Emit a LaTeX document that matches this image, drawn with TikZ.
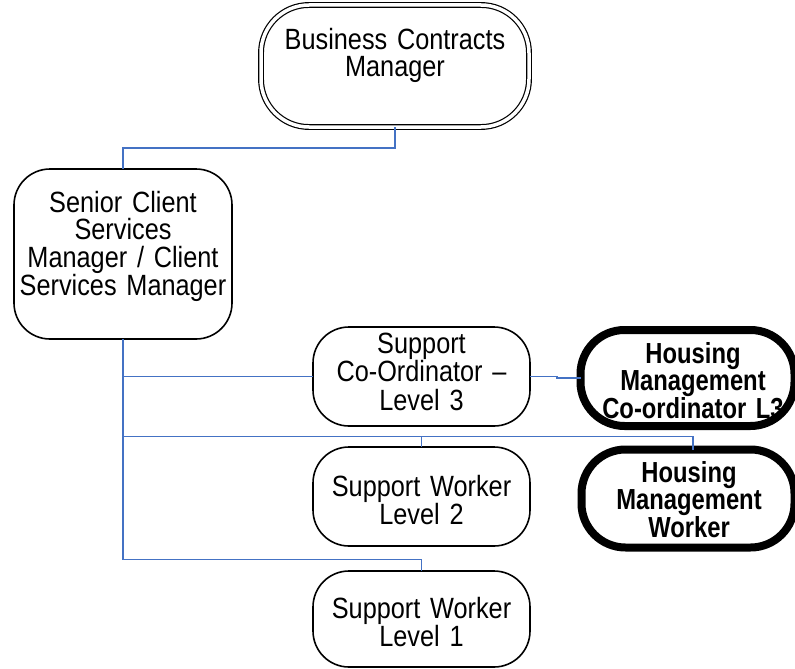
\documentclass[tikz,border=0pt]{standalone}
\usepackage{fontspec}
\usetikzlibrary{calc}
\newfontfamily\lblfont{Liberation Sans}[FakeStretch=0.863]
\newfontfamily\lblbold{Liberation Sans}[FakeStretch=0.82]
\definecolor{linkblue}{HTML}{4472C4}
% regular and bold label fonts with tighter word spaces
\newcommand\regfont[1]{\lblfont\fontsize{29.3}{#1}\selectfont\spaceskip=7pt plus 1pt\relax}
\newcommand\heavyfont[1]{\lblbold\bfseries\fontsize{29}{#1}\selectfont\spaceskip=7pt plus 1pt\relax}
\begin{document}
\begin{tikzpicture}[x=1pt,y=-1pt,
  box/.style={draw=black, line width=1.6pt, rounded corners=36pt, inner sep=0pt, outer sep=0pt},
  heavybox/.style={draw=black, line width=8pt, rounded corners=44pt, inner sep=0pt, outer sep=0pt},
  dblbox/.style={draw=black, double=white, double distance=3.5pt, line width=1.2pt, rounded corners=48pt, inner sep=0pt, outer sep=0pt},
  txt/.style={anchor=base, inner sep=0pt, align=center, font=\regfont{28}},
  boldtxt/.style={anchor=base, inner sep=0pt, align=center, font=\heavyfont{25.8}},
  link/.style={draw=linkblue, line width=1.9pt}]
\useasboundingbox (0,0) rectangle (795,669);

% boxes
\node[dblbox, minimum width=268pt, minimum height=122pt] (bcm) at (395,66) {};
\node[box, minimum width=218pt, minimum height=170pt] (scsm) at (123,254) {};
\node[box, minimum width=217pt, minimum height=99pt] (sc3) at (421.5,376.5) {};
\node[box, minimum width=217pt, minimum height=99pt] (sw2) at (421.5,496.5) {};
\node[box, minimum width=217pt, minimum height=96pt] (sw1) at (421.5,619) {};
\node[heavybox, minimum width=214pt, minimum height=96pt] (hmc) at (687.5,378) {};
\node[heavybox, minimum width=213pt, minimum height=98pt] (hmw) at (688,498.5) {};

% labels
\node[txt, text width=260pt] (bcmtext) at (395,49) {Business Contracts\\Manager};
\node[txt, text width=215pt, font=\regfont{27.2}] (scsmtext) at (123,212.7) {Senior Client\\Services\\Manager / Client\\Services Manager};
\node[txt, text width=210pt, font=\regfont{28.5}] (sc3text) at (421.5,353) {Support\\Co-Ordinator –\\Level 3};
\node[txt, text width=210pt] (sw2text) at (421.5,496) {Support Worker\\Level 2};
\node[txt, text width=210pt, font=\regfont{27}] (sw1text) at (421.5,618) {Support Worker\\Level 1};
\node[boldtxt, text width=210pt] (hmctext) at (693,363) {Housing\\Management\\Co-ordinator L3};
\node[boldtxt, text width=210pt, font=\heavyfont{26}] (hmwtext) at (689,482) {Housing\\Management\\Worker};

% reporting lines
\coordinate (topbend) at (123,148);
\coordinate (sw2bend) at (421.5,436.5);
\coordinate (hmwbend) at (693,436.5);
\coordinate (sw1bend) at (421.5,559.5);
\draw[link] (bcm.south) |- (topbend) -- (scsm.north);
\draw[link] (scsm.south) |- (sc3.west);
\draw[link] (sc3.east) -- ++(27,0) |- (hmc.west);
\draw[link] (scsm.south) |- (sw2bend) -- (sw2.north);
\draw[link] (scsm.south) |- (hmwbend) -- (hmwbend |- hmw.north);
\draw[link] (scsm.south) |- (sw1bend) -- (sw1.north);
\end{tikzpicture}
\end{document}
